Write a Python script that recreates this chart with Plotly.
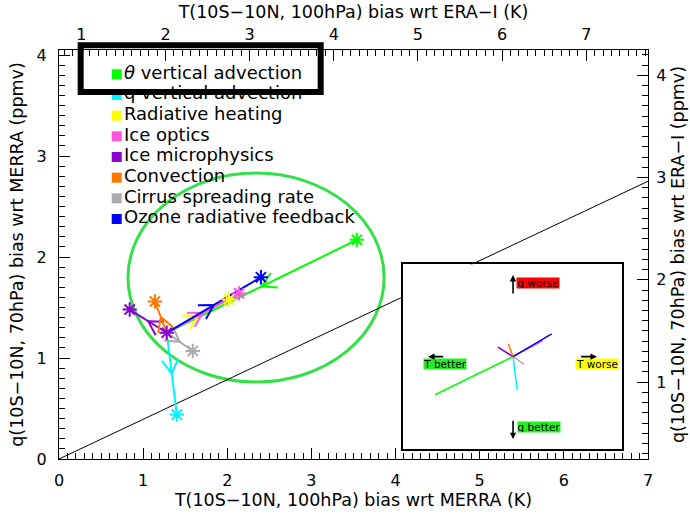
import math
import plotly.graph_objects as go

# ---------------- data ----------------
names = ["<i>θ</i> vertical advection", "q vertical advection", "Radiative heating",
         "Ice optics", "Ice microphysics", "Convection", "Cirrus spreading rate",
         "Ozone radiative feedback"]
colors = ["#00ff00", "#00f4ff", "#ffff00", "#ff55dd", "#8a00d0", "#ff7700", "#aaaaaa", "#0000ff"]

# control run (T bias wrt MERRA in K, q bias wrt MERRA in ppmv)
ctrl_T = 1.28
ctrl_q = 1.25
# perturbed runs
run_T = [3.54, 1.40, 2.02, 2.14, 0.84, 1.14, 1.59, 2.40]
run_q = [2.17, 0.44, 1.58, 1.64, 1.48, 1.56, 1.07, 1.80]
# arrow direction: True -> control to run, False -> run to control
from_ctrl = [False, True, True, True, True, True, True, True]

# 1:1 reference line
diag_T = [0, 7]
diag_q = [0, 2.75]

# relation of the secondary (ERA-I) axes to the primary (MERRA) ones
era_T_offset = 0.734
era_q_range = [0.248, 4.247]

x_title = "T(10S−10N, 100hPa) bias wrt MERRA (K)"
x2_title = "T(10S−10N, 100hPa) bias wrt ERA−I (K)"
y_title = "q(10S−10N, 70hPa) bias wrt MERRA (ppmv)"
y2_title = "q(10S−10N, 70hPa) bias wrt ERA−I (ppmv)"

# ---------------- geometry ----------------
FONT = "DejaVu Sans"
W, H = 690, 515
M = dict(l=59, r=42, t=50, b=56, pad=0)
PW = W - M["l"] - M["r"]
PH = H - M["t"] - M["b"]
XR = [0, 7]
YR = [0, 4.05]
sx = PW / (XR[1] - XR[0])
sy = PH / (YR[1] - YR[0])

fig = go.Figure()

# diagonal
fig.add_trace(go.Scatter(x=diag_T, y=diag_q, mode="lines",
                         line=dict(color="black", width=1), hoverinfo="skip", showlegend=False))

n = len(names)
from_T, from_q, to_T, to_q = [], [], [], []
for i in range(n):
    if from_ctrl[i]:
        from_T.append(ctrl_T); from_q.append(ctrl_q); to_T.append(run_T[i]); to_q.append(run_q[i])
    else:
        from_T.append(run_T[i]); from_q.append(run_q[i]); to_T.append(ctrl_T); to_q.append(ctrl_q)

ARM = 16.0
ANG = math.radians(30)
for i in range(n):
    x0, y0, x1, y1 = from_T[i], from_q[i], to_T[i], to_q[i]
    tx, ty = x0 + 0.5 * (x1 - x0), y0 + 0.5 * (y1 - y0)
    px, py = (x1 - x0) * sx, (y1 - y0) * sy
    L = math.hypot(px, py)
    bx, by = -px / L, -py / L
    arms = []
    for a in (ANG, -ANG):
        rx = bx * math.cos(a) - by * math.sin(a)
        ry = bx * math.sin(a) + by * math.cos(a)
        arms.append((tx + ARM * rx / sx, ty + ARM * ry / sy))
    fig.add_trace(go.Scatter(
        x=[x0, x1, None, arms[0][0], tx, arms[1][0]],
        y=[y0, y1, None, arms[0][1], ty, arms[1][1]],
        mode="lines", line=dict(color=colors[i], width=2),
        hoverinfo="skip", showlegend=False))

# stars for the perturbed runs
fig.add_trace(go.Scatter(x=run_T, y=run_q, mode="markers",
                         marker=dict(symbol="asterisk-open", size=12, color=colors,
                                     line=dict(width=2, color=colors)),
                         showlegend=False, hoverinfo="skip"))
# control star
fig.add_trace(go.Scatter(x=[ctrl_T], y=[ctrl_q], mode="markers",
                         marker=dict(symbol="asterisk-open", size=12, color=colors[4],
                                     line=dict(width=2, color=colors[4])),
                         showlegend=False, hoverinfo="skip"))

# empty traces registering the secondary axes
fig.add_trace(go.Scatter(x=[], y=[], xaxis="x2", yaxis="y", showlegend=False))
fig.add_trace(go.Scatter(x=[], y=[], xaxis="x", yaxis="y2", showlegend=False))

# inset: direction of each change (same data units, scaled)
for i in range(n):
    fig.add_trace(go.Scatter(x=[0, to_T[i] - from_T[i]], y=[0, to_q[i] - from_q[i]],
                             mode="lines", line=dict(color=colors[i], width=1.5),
                             xaxis="x3", yaxis="y3", showlegend=False, hoverinfo="skip"))

# legend (manual, on an overlay paper-like axis)
LEG_X = 0.098
LEG_Y0 = 0.9406
LEG_DY = 0.05054
leg_y = [LEG_Y0 - k * LEG_DY for k in range(n)]
fig.add_trace(go.Scatter(x=[LEG_X] * n, y=leg_y, mode="markers+text", text=names,
                         textposition="middle right",
                         textfont=dict(family=FONT, size=18, color="black"),
                         marker=dict(symbol="square", size=10, color=colors),
                         xaxis="x4", yaxis="y4", cliponaxis=False,
                         showlegend=False, hoverinfo="skip"))

# ---------------- layout ----------------
tickfont = dict(family=FONT, size=16, color="black")
titlefont = dict(family=FONT, size=17.5, color="black")

def ax(**kw):
    d = dict(showline=True, linecolor="black", linewidth=1, ticks="inside", ticklen=11,
             tickwidth=1, tickcolor="black", dtick=1, tick0=0, showgrid=False,
             zeroline=False, tickfont=tickfont, automargin=False,
             minor=dict(ticks="inside", ticklen=6, tickwidth=1, tickcolor="black",
                        dtick=0.1, tick0=0, showgrid=False))
    d.update(kw)
    return d

ix0 = 0.584; ix1 = 0.956; iy0 = 0.0244; iy1 = 0.476
inset_xr = [-3.19, 3.16]
inset_yr = [-2.23, 2.23]

fig.update_layout(
    width=W, height=H, margin=M, showlegend=False,
    paper_bgcolor="white", plot_bgcolor="white",
    xaxis=ax(range=XR, title=dict(text=x_title, font=titlefont, standoff=3),
             ticklabelstandoff=7),
    xaxis2=ax(range=[XR[0] + era_T_offset, XR[1] + era_T_offset], overlaying="x", side="top",
              anchor="y", title=dict(text=x2_title, font=titlefont, standoff=1),
              ticklabelstandoff=3),
    yaxis=ax(range=YR, title=dict(text=y_title, font=titlefont, standoff=8),
             ticklabelstandoff=8),
    yaxis2=ax(range=era_q_range, overlaying="y", side="right", anchor="x",
              title=dict(text=y2_title, font=titlefont, standoff=6),
              ticklabelstandoff=4),
    xaxis3=dict(domain=[ix0, ix1], anchor="y3", range=inset_xr, showline=True, mirror=True,
                linecolor="black", linewidth=1.5, showticklabels=False, ticks="",
                showgrid=False, zeroline=False),
    yaxis3=dict(domain=[iy0, iy1], anchor="x3", range=inset_yr, showline=True, mirror=True,
                linecolor="black", linewidth=1.5, showticklabels=False, ticks="",
                showgrid=False, zeroline=False),
    xaxis4=dict(domain=[0, 1], anchor="y4", range=[0, 1], visible=False, overlaying="x"),
    yaxis4=dict(domain=[0, 1], anchor="x4", range=[0, 1], visible=False, overlaying="y"),
)

# ellipse highlighting the cluster
fig.add_shape(type="circle", xref="x", yref="y", x0=0.82, x1=3.864, y0=0.762, y1=2.832,
              line=dict(color="#33e04a", width=3), layer="below")

# box around first legend entry
fig.add_shape(type="rect", xref="paper", yref="paper", x0=0.0368, x1=0.4443, y0=0.8973, y1=1.0115,
              line=dict(color="black", width=6))

# inset labels & arrows
labs = [("q worse", 0.72, 1.77, "#ff0000"), ("T better", -1.96, -0.18, "#22ee22"),
        ("T worse", 2.43, -0.18, "#ffff00"), ("q better", 0.74, -1.69, "#22ee22")]
for t, x, y, c in labs:
    fig.add_annotation(text=t, x=x, y=y, xref="x3", yref="y3", showarrow=False,
                       bgcolor=c, font=dict(family=FONT, size=10.5, color="black"),
                       width=42, height=10, borderpad=0)
arrows = [(0, 1.49, 0, 1.97), (-1.98, 0, -2.46, 0), (1.93, 0, 2.43, 0), (0, -1.51, 0, -1.99)]
for x0, y0, x1, y1 in arrows:
    fig.add_annotation(x=x1, y=y1, ax=x0, ay=y0, xref="x3", yref="y3", axref="x3", ayref="y3",
                       text="", showarrow=True, arrowhead=2, arrowsize=0.8, arrowwidth=1.6,
                       arrowcolor="black")

fig.write_html("out.html")
